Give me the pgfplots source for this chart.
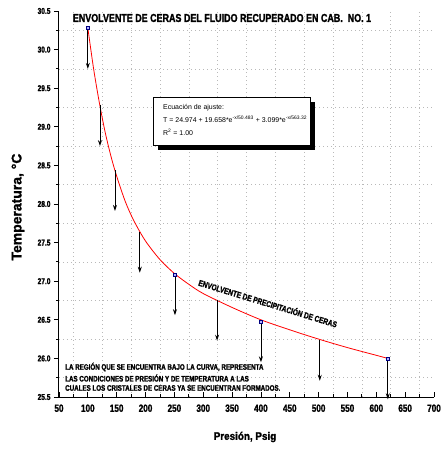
\documentclass[border=0pt]{standalone}
\usepackage{pgfplots}
\pgfplotsset{compat=1.18}
\usepackage{pgfplotstable}
\usetikzlibrary{arrows.meta}
\usepackage{fontspec}
\setmainfont{Liberation Sans}
\newfontfamily\heavy[UprightFont=* Bold, FakeStretch=0.78, RawFeature={embolden=1.5}]{Liberation Sans}
\newfontfamily\heavyx[UprightFont=* Bold, FakeStretch=0.9, RawFeature={embolden=1.5}]{Liberation Sans}
\newfontfamily\heavyn[UprightFont=* Bold, RawFeature={embolden=1.2}]{Liberation Sans}

\pgfplotstableread{
x T
100 30.28
110 29.75
120 29.31
130 28.93
140 28.62
150 28.36
165 28.03
180 27.78
200 27.52
225 27.28
250 27.10
275 26.96
300 26.84
350 26.66
400 26.50
450 26.37
500 26.25
550 26.14
600 26.04
620 26.00
}\curve

\pgfplotstableread{
x T v
100 30.28 -0.53
121 29.28 -0.53
147 28.44 -0.53
190 27.64 -0.53
251 27.09 -0.53
324 26.76 -0.53
400 26.48 -0.53
502 26.24 -0.53
620 26.00 -0.53
}\arrows

\begin{document}
\begin{tikzpicture}
\begin{axis}[
  scale only axis, width=375bp, height=386bp,
  xmin=50, xmax=700, ymin=25.5, ymax=30.5,
  clip=false,
  axis x line=bottom, axis y line=left,
  axis line style={-, line width=1bp, black},
  xtick={50,100,...,700},
  ytick={25.5,26.0,...,30.5},
  minor x tick num=1, minor y tick num=1,
  xtick align=inside, ytick align=outside,
  major tick length=5bp, minor tick length=3bp,
  tick style={black, line width=0.8bp},
  xminorgrids, yminorgrids,
  minor grid style={gray!55, line width=0.6bp, dash pattern=on 0.8bp off 3.2bp},
  /pgf/number format/assume math mode=true,
  yticklabel style={font=\heavy\fontsize{8.5}{9}\selectfont, /pgf/number format/fixed, /pgf/number format/fixed zerofill, /pgf/number format/precision=1},
  xticklabel style={font=\heavy\fontsize{10.5}{11}\selectfont, yshift=-4bp},
]
\addplot[red, line width=0.8bp, smooth] table[x=x, y=T] {\curve};
\addplot[black, line width=0.8bp, quiver={u=0, v=\thisrow{v}}, -{Stealth[length=6bp, width=4bp]}] table[x=x, y=T] {\arrows};
\addplot[only marks, mark=square*, mark size=1.5bp, mark options={draw=blue!50!black, fill=blue!30, line width=0.5bp}] coordinates {(100,30.28) (250,27.09) (400,26.48) (620,26.00)};
\end{axis}

% title
\node[font=\heavy\fontsize{11.5}{12}\selectfont, anchor=center] at (163bp,379bp) {ENVOLVENTE DE CERAS DEL FLUIDO RECUPERADO EN CAB.\ \ NO. 1};
% axis labels
\node[font=\heavyn\fontsize{14}{15}\selectfont, rotate=90] at (-41bp,190bp) {Temperatura, °C};
\node[font=\heavyx\fontsize{11}{12}\selectfont] at (186bp,-40bp) {Presión, Psig};
% equation box
\fill[black] (99bp,247bp) rectangle (256bp,295bp);
\draw[black, fill=white, line width=0.6bp] (94bp,252bp) rectangle (251bp,300bp);
\node[anchor=base west, font=\fontsize{7}{8}\selectfont, inner sep=0] at (104bp,287bp) {Ecuación de ajuste:};
\node[anchor=base west, font=\fontsize{7}{8}\selectfont, inner sep=0] at (104bp,274bp) {T = 24.974 + 19.658*e\textsuperscript{-x/50.483} + 3.099*e\textsuperscript{-x/563.32}};
\node[anchor=base west, font=\fontsize{7}{8}\selectfont, inner sep=0] at (104bp,261bp) {R\textsuperscript{2} = 1.00};
% rotated annotation
\node[font=\heavy\fontsize{8.5}{9}\selectfont, rotate=-17] at (209bp,94bp) {ENVOLVENTE DE PRECIPITACIÓN DE CERAS};
% region text
\node[anchor=west, inner sep=0, font=\heavy\fontsize{8}{9}\selectfont] at (6bp,30bp) {LA REGIÓN QUE SE ENCUENTRA BAJO LA CURVA, REPRESENTA};
\node[anchor=west, inner sep=0, font=\heavy\fontsize{8}{9}\selectfont] at (6bp,19bp) {LAS CONDICIONES DE PRESIÓN Y DE TEMPERATURA A LAS};
\node[anchor=west, inner sep=0, font=\heavy\fontsize{8}{9}\selectfont] at (6bp,9bp) {CUALES LOS CRISTALES DE CERAS YA SE ENCUENTRAN FORMADOS.};

\pgfresetboundingbox
\path[use as bounding box] (-59bp,-53bp) rectangle (382bp,397bp);
\end{tikzpicture}
\end{document}
